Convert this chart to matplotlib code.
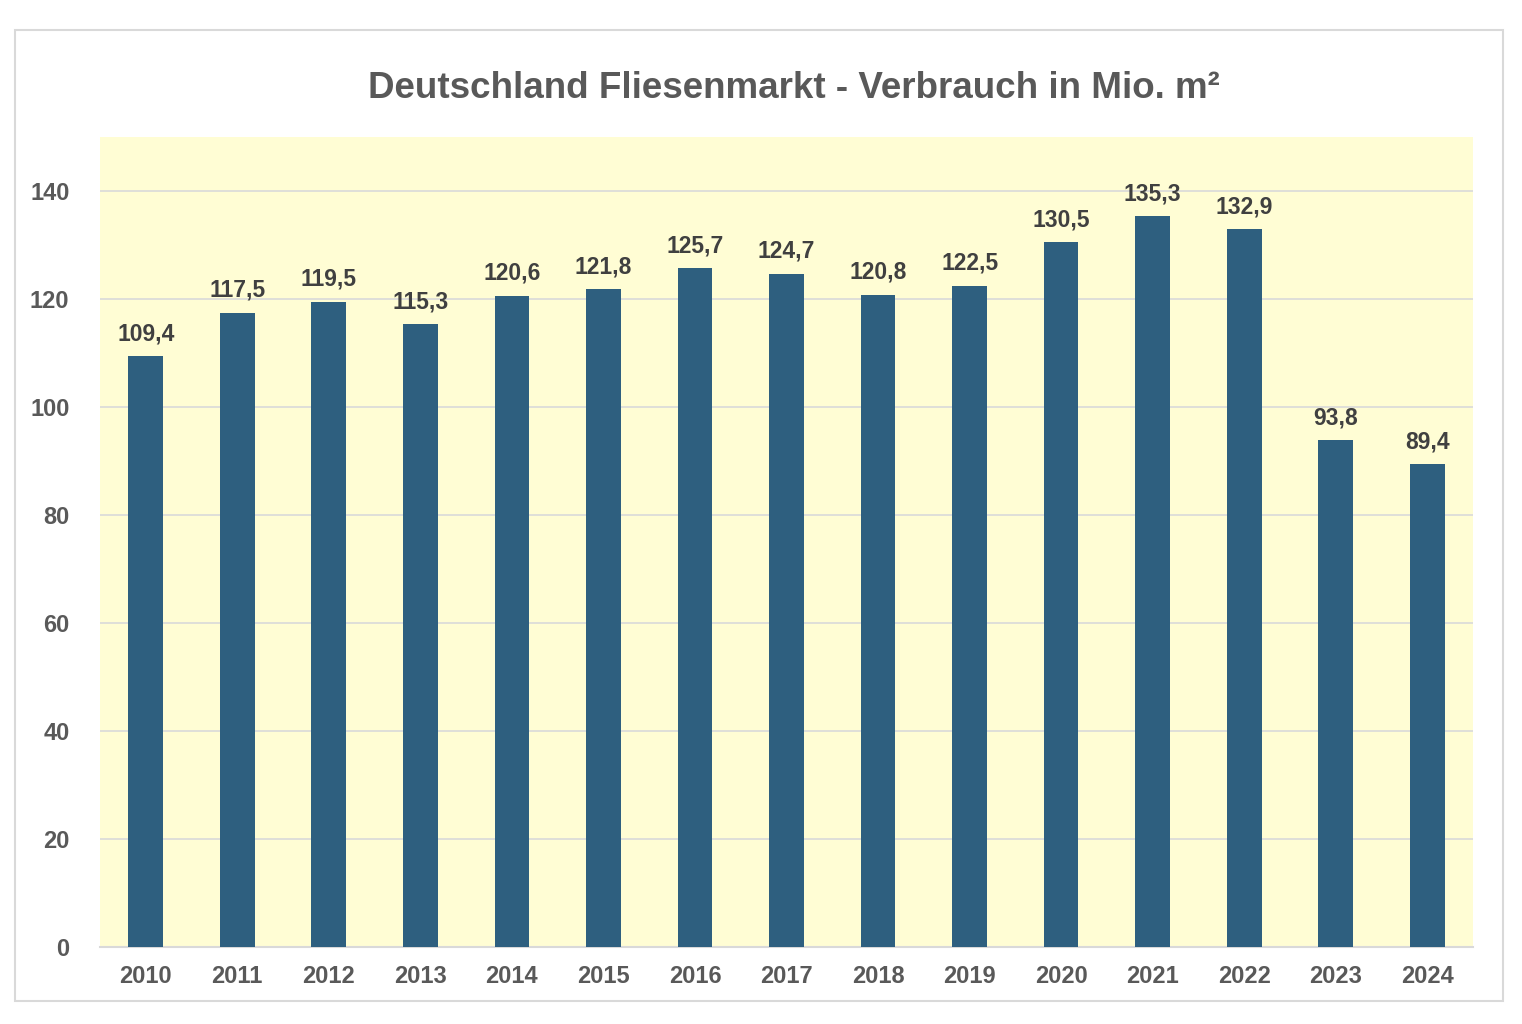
import matplotlib.pyplot as plt
from matplotlib.patches import Rectangle

plt.rcParams['font.family'] = ['Liberation Sans', 'DejaVu Sans']

years = ['2010', '2011', '2012', '2013', '2014', '2015', '2016', '2017',
         '2018', '2019', '2020', '2021', '2022', '2023', '2024']
verbrauch = [109.4, 117.5, 119.5, 115.3, 120.6, 121.8, 125.7, 124.7,
             120.8, 122.5, 130.5, 135.3, 132.9, 93.8, 89.4]
yticks = [0, 20, 40, 60, 80, 100, 120, 140]

# create figure
fig = plt.figure(figsize=(15.22, 10.24), dpi=100)
fig.patches.append(Rectangle((15 / 1522, 23 / 1024), 1488 / 1522, 971 / 1024,
                             transform=fig.transFigure, fill=False,
                             edgecolor='#D9D9D9', linewidth=1.5))

ax = fig.add_axes([100 / 1522, 77 / 1024, 1373 / 1522, 810 / 1024])
ax.set_facecolor('#FFFDD4')

# bars and value labels
x = range(len(years))
bars = ax.bar(x, verbrauch, width=0.38, color='#2E5F7F', zorder=3)
for xi, v in zip(x, verbrauch):
    ax.annotate(f'{v:.1f}'.replace('.', ','), (xi, v), xytext=(0, 8),
                textcoords='offset points', ha='center', va='bottom',
                fontsize=16.5, fontweight='bold', color='#404040', zorder=4)

# axes styling
ax.set_xlim(-0.5, len(years) - 0.5)
ax.set_ylim(0, 150)
ax.set_xticks(list(x))
ax.set_xticklabels(years)
ax.set_yticks(yticks)
ax.grid(axis='y', color='#D9D9D9', linewidth=1.2, zorder=1)
for s in ['top', 'right', 'left']:
    ax.spines[s].set_visible(False)
ax.spines['bottom'].set_color('#D9D9D9')
ax.spines['bottom'].set_linewidth(1.5)
ax.tick_params(axis='both', length=0, labelsize=17, labelcolor='#595959')
ax.tick_params(axis='x', pad=13)
ax.tick_params(axis='y', pad=22)
for lbl in ax.get_xticklabels() + ax.get_yticklabels():
    lbl.set_fontweight('bold')

fig.text(794 / 1522, 936 / 1024, 'Deutschland Fliesenmarkt - Verbrauch in Mio. m²',
         ha='center', va='center', fontsize=26.5, fontweight='bold',
         color='#595959')

plt.savefig('out.png', dpi=100)
